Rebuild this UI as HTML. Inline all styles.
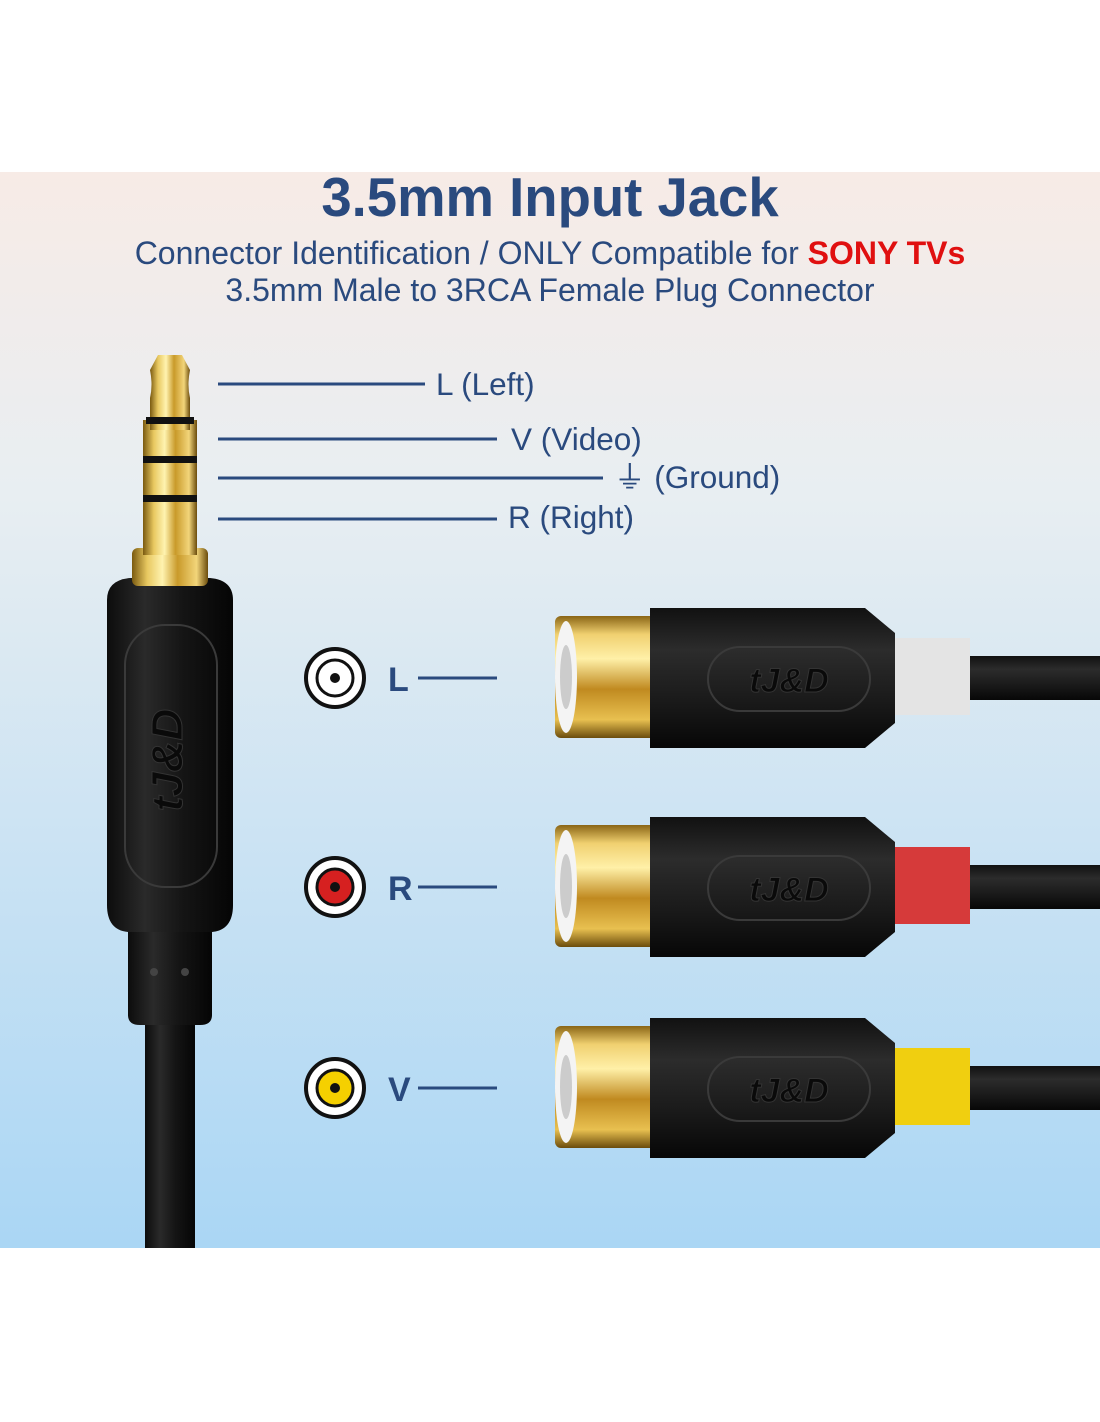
<!DOCTYPE html>
<html><head><meta charset="utf-8"><style>
html,body{margin:0;padding:0;background:#fff}
body{width:1100px;height:1422px;position:relative;overflow:hidden;font-family:"Liberation Sans",sans-serif}
.t{position:absolute;left:0;width:1100px;text-align:center;color:#2a4a7e}
</style></head><body>
<svg width="1100" height="1422" style="position:absolute;left:0;top:0">
<defs>
<linearGradient id="bg" x1="0" y1="0" x2="0" y2="1">
<stop offset="0" stop-color="#f7ebe6"/><stop offset="0.3" stop-color="#e8eef2"/><stop offset="1" stop-color="#aad6f4"/></linearGradient>
<linearGradient id="gold" x1="0" y1="0" x2="1" y2="0">
<stop offset="0" stop-color="#7a5a10"/><stop offset="0.2" stop-color="#e8c860"/><stop offset="0.4" stop-color="#fff3b0"/><stop offset="0.6" stop-color="#c99a2a"/><stop offset="0.85" stop-color="#f2d57a"/><stop offset="1" stop-color="#6b4c0c"/></linearGradient>
<linearGradient id="goldv" x1="0" y1="0" x2="0" y2="1">
<stop offset="0" stop-color="#8a6515"/><stop offset="0.15" stop-color="#f0d070"/><stop offset="0.35" stop-color="#fff0a8"/><stop offset="0.6" stop-color="#c08a20"/><stop offset="0.85" stop-color="#e8c050"/><stop offset="1" stop-color="#6b4c0c"/></linearGradient>
<linearGradient id="blk" x1="0" y1="0" x2="1" y2="0">
<stop offset="0" stop-color="#0c0c0c"/><stop offset="0.3" stop-color="#2a2a2a"/><stop offset="0.6" stop-color="#151515"/><stop offset="1" stop-color="#050505"/></linearGradient>
<linearGradient id="blkv" x1="0" y1="0" x2="0" y2="1">
<stop offset="0" stop-color="#111"/><stop offset="0.3" stop-color="#2c2c2c"/><stop offset="0.7" stop-color="#181818"/><stop offset="1" stop-color="#070707"/></linearGradient>
<g id="rca">
<rect x="970" y="-22" width="140" height="44" fill="url(#blkv)"/>
<rect x="555" y="-62" width="112" height="122" rx="6" fill="url(#goldv)"/>
<ellipse cx="566" cy="-1" rx="11" ry="56" fill="#f4f4f4"/>
<ellipse cx="566" cy="-1" rx="6" ry="32" fill="#ccc"/>
<path d="M650 -70 H865 L895 -45 V45 L865 70 H650 Z" fill="url(#blkv)"/>
<rect x="708" y="-31" width="162" height="64" rx="32" fill="none" stroke="#3a3a3a" stroke-width="2"/>
<text x="789" y="14" text-anchor="middle" font-family="Liberation Sans" font-weight="bold" font-style="italic" font-size="34" fill="#0a0a0a" stroke="#333" stroke-width="1">tJ&amp;D</text>
</g>
</defs>
<rect x="0" y="172" width="1100" height="1076" fill="url(#bg)"/>
<rect x="145" y="1000" width="50" height="248" fill="url(#blk)"/>
<path d="M128 900 H212 V1015 Q212 1025 200 1025 H140 Q128 1025 128 1015 Z" fill="url(#blk)"/>
<circle cx="154" cy="972" r="4" fill="#444"/><circle cx="185" cy="972" r="4" fill="#444"/>
<path d="M107 600 Q107 580 130 578 H210 Q233 580 233 600 V905 Q233 930 212 932 H128 Q107 930 107 905 Z" fill="url(#blk)"/>
<rect x="125" y="625" width="92" height="262" rx="40" fill="none" stroke="#3a3a3a" stroke-width="2"/>
<text transform="translate(182,760) rotate(-90)" text-anchor="middle" font-weight="bold" font-style="italic" font-size="44" fill="#0a0a0a" stroke="#333">tJ&amp;D</text>
<rect x="132" y="548" width="76" height="38" rx="6" fill="url(#gold)"/>
<rect x="143" y="420" width="54" height="135" fill="url(#gold)"/>
<path d="M150 430 V398 Q153 385 150 370 L158 355 H182 L190 370 Q187 385 190 398 V430 Z" fill="url(#gold)"/>
<rect x="146" y="417" width="48" height="7" fill="#111"/>
<rect x="143" y="456" width="54" height="7" fill="#111"/>
<rect x="143" y="495" width="54" height="7" fill="#111"/>
<g stroke="#2a4a7e" stroke-width="3">
<line x1="218" y1="384" x2="425" y2="384"/>
<line x1="218" y1="439" x2="497" y2="439"/>
<line x1="218" y1="478" x2="603" y2="478"/>
<line x1="218" y1="519" x2="497" y2="519"/>
<line x1="418" y1="678" x2="497" y2="678"/>
<line x1="418" y1="887" x2="497" y2="887"/>
<line x1="418" y1="1088" x2="497" y2="1088"/>
</g>
<g font-size="31.5" fill="#2a4a7e">
<text x="436" y="395">L  (Left)</text>
<text x="511" y="450">V (Video)</text>
<text x="614" y="488">⏚ (Ground)</text>
<text x="508" y="528">R (Right)</text>
</g>
<g font-size="34" font-weight="bold" fill="#2a4a7e">
<text x="388" y="691">L</text><text x="388" y="900">R</text><text x="388" y="1101">V</text>
</g>
<g>
<circle cx="335" cy="678" r="29" fill="#fff" stroke="#111" stroke-width="4"/><circle cx="335" cy="678" r="18" fill="#fff" stroke="#111" stroke-width="3"/><circle cx="335" cy="678" r="5" fill="#111"/>
<circle cx="335" cy="887" r="29" fill="#fff" stroke="#111" stroke-width="4"/><circle cx="335" cy="887" r="18" fill="#d62020" stroke="#111" stroke-width="3"/><circle cx="335" cy="887" r="5" fill="#111"/>
<circle cx="335" cy="1088" r="29" fill="#fff" stroke="#111" stroke-width="4"/><circle cx="335" cy="1088" r="18" fill="#f5d000" stroke="#111" stroke-width="3"/><circle cx="335" cy="1088" r="5" fill="#111"/>
</g>
<g transform="translate(0,678)"><rect x="890" y="-40" width="80" height="77" fill="#e4e4e4"/><use href="#rca"/></g>
<g transform="translate(0,887)"><rect x="890" y="-40" width="80" height="77" fill="#d63a3a"/><use href="#rca"/></g>
<g transform="translate(0,1088)"><rect x="890" y="-40" width="80" height="77" fill="#f0cf10"/><use href="#rca"/></g>
</svg>
<div class="t" style="top:166px;font-size:54.5px;font-weight:bold">3.5mm Input Jack</div>
<div class="t" style="top:235px;font-size:32px">Connector Identification / ONLY Compatible for <b style="color:#e01010">SONY TVs</b></div>
<div class="t" style="top:272px;font-size:32px">3.5mm Male to 3RCA Female Plug Connector</div>
</body></html>
